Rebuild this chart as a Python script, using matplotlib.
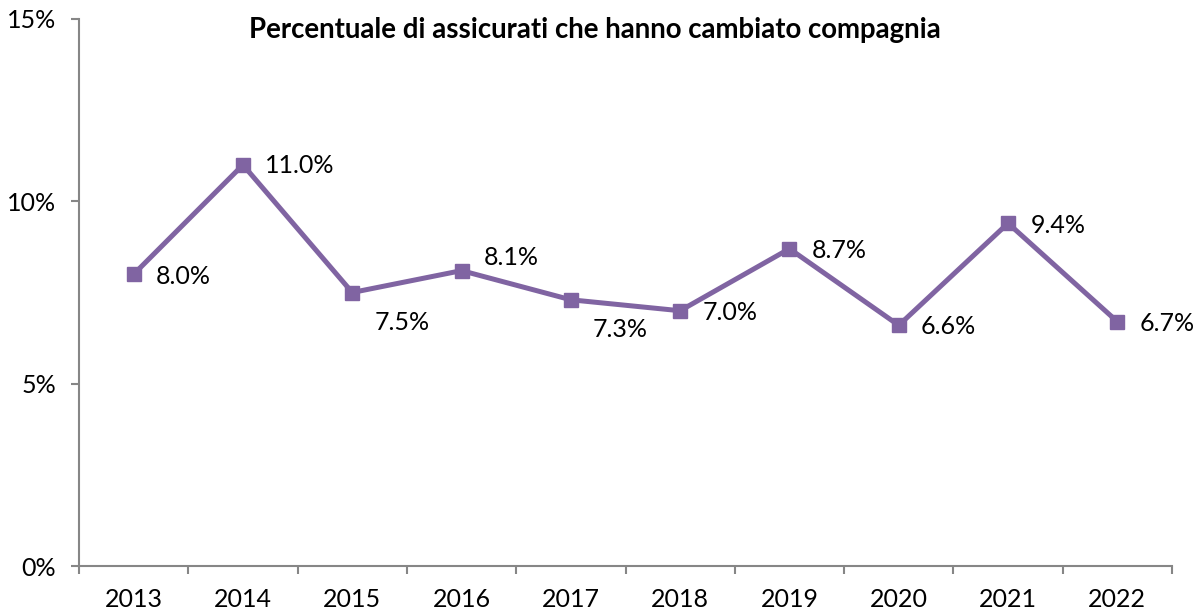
import matplotlib.pyplot as plt

# values
years = ["2013", "2014", "2015", "2016", "2017", "2018", "2019", "2020", "2021", "2022"]
share = [8.0, 11.0, 7.5, 8.1, 7.3, 7.0, 8.7, 6.6, 9.4, 6.7]
# vertical label offsets in points (labels sit to the right of the marker)
label_dy = [-1.5, -0.5, -21.5, 9.5, -21.5, -1, -1, -1, -1.5, -1]
y_ticks = [0, 5, 10, 15]

plt.rcParams["font.family"] = ["Lato", "DejaVu Sans"]

purple = "#8064A2"
grey = "#868686"

fig = plt.figure(figsize=(12.04, 6.12), dpi=100)
ax = fig.add_axes([79 / 1204, 46 / 612, (1172 - 79) / 1204, (566 - 19) / 612])

x = list(range(len(years)))
ax.plot(x, share, color=purple, linewidth=3.6, marker="s", markersize=10.5,
        markerfacecolor=purple, markeredgecolor=purple)

for i, (v, dy) in enumerate(zip(share, label_dy)):
    ax.annotate(f"{v:.1f}%", (i, v), xytext=(16, dy), textcoords="offset points",
                ha="left", va="center", fontsize=18, color="black")

ax.set_xlim(-0.5, len(years) - 0.5)
ax.set_ylim(0, 15)
ax.set_yticks(y_ticks)
ax.set_yticklabels([f"{t}%" for t in y_ticks], fontsize=18)

ax.set_xticks(x)
ax.set_xticklabels(years, fontsize=18)
ax.tick_params(axis="x", which="major", length=0, pad=16)
ax.set_xticks([i - 0.5 for i in range(len(years) + 1)], minor=True)
ax.tick_params(axis="x", which="minor", length=5.5, width=1.5, color=grey, direction="out")
ax.tick_params(axis="y", length=5.5, width=1.5, color=grey, direction="out", pad=11)

for side in ["top", "right"]:
    ax.spines[side].set_visible(False)
for side in ["left", "bottom"]:
    ax.spines[side].set_color(grey)
    ax.spines[side].set_linewidth(1.5)

fig.text(595 / 1204, 1 - 30 / 612, "Percentuale di assicurati che hanno cambiato compagnia",
         ha="center", va="center", fontsize=19.9, fontweight="bold")

fig.savefig("out.png", dpi=100)
